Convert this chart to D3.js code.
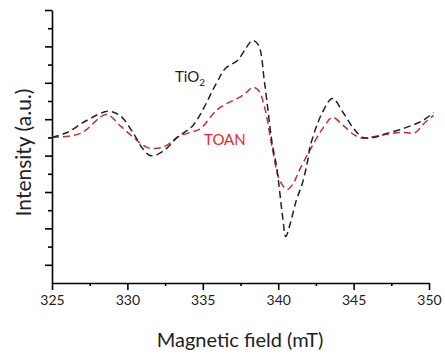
<!DOCTYPE html>
<html>
<head>
<meta charset="utf-8">
<script src="https://cdn.jsdelivr.net/npm/d3@7"></script>
<style>
  body { margin: 0; background: #fff; }
  text { font-family: Lato, "Open Sans", sans-serif; }
</style>
</head>
<body>
<div id="chart"></div>
<script>
// magnetic field (mT) and relative intensity
var tio2Field = [325.0, 326.0, 327.3, 328.7, 329.5, 330.4, 331.0, 331.5, 332.0, 332.6, 333.3, 334.35, 335.9, 336.5, 337.3, 337.9, 338.3, 338.7, 339.1, 339.6, 339.9, 340.3, 340.5, 340.8, 341.2, 341.6, 342.0, 342.1, 342.9, 343.6, 344.3, 345.0, 345.6, 346.3, 347.2, 348.5, 349.6, 350.3];
var tio2Value = [0, 0.27, 0.93, 1.43, 1.21, 0.22, -0.6, -0.99, -0.93, -0.6, 0, 0.66, 2.97, 3.79, 4.23, 4.95, 5.33, 5.05, 2.97, -0.33, -1.65, -4.40, -5.44, -4.73, -3.46, -2.53, -1.10, -0.55, 1.32, 2.14, 1.37, 0.49, 0, 0, 0.22, 0.55, 0.93, 1.37];

var toanField = [325.0, 326.9, 328.6, 329.5, 330.4, 331.3, 332.0, 332.6, 333.3, 334.15, 334.8, 335.9, 336.6, 337.3, 337.9, 338.3, 338.7, 339.1, 339.6, 340.1, 340.6, 341.0, 341.4, 342.1, 343.0, 343.6, 344.3, 345.1, 345.6, 346.75, 348.1, 349.1, 349.6, 350.3];
var toanValue = [0, 0.22, 1.26, 0.66, 0, -0.55, -0.6, -0.44, 0, 0.27, 0.45, 1.48, 1.87, 2.14, 2.47, 2.75, 2.58, 1.65, -0.55, -2.36, -2.86, -2.53, -1.81, -0.71, 0.55, 1.10, 0.66, 0.11, -0.05, 0.11, 0.27, 0.27, 0.71, 1.21];

var xTicks = [325, 330, 335, 340, 345, 350];

var margin = {top: 10, right: 16, bottom: 77, left: 52},
    width = 445 - margin.left - margin.right,
    height = 360 - margin.top - margin.bottom;

var svg = d3.select("#chart").append("svg")
    .attr("width", 445)
    .attr("height", 360)
  .append("g")
    .attr("transform", "translate(" + margin.left + "," + margin.top + ")");

var x = d3.scaleLinear().domain([325, 350]).range([0, width]);
var y = d3.scaleLinear().domain([-8, 7]).range([height, 0]);

// x axis: major ticks with labels, minor ticks between
var xAxis = svg.append("g")
    .attr("transform", "translate(0," + height + ")")
    .call(d3.axisBottom(x).tickValues(xTicks).tickSize(7).tickSizeOuter(0).tickFormat(d3.format("d")));
svg.append("g")
    .attr("transform", "translate(0," + height + ")")
    .call(d3.axisBottom(x).tickValues(d3.range(327.5, 350, 5)).tickSize(3).tickFormat(""))
    .select(".domain").remove();

// y axis: no labels, alternating long / short ticks
svg.append("g")
    .call(d3.axisLeft(y).tickValues(d3.range(-7, 8, 2)).tickSize(7).tickSizeOuter(0).tickFormat(""));
svg.append("g")
    .call(d3.axisLeft(y).tickValues(d3.range(-6, 7, 2)).tickSize(4).tickFormat(""))
    .select(".domain").remove();

svg.selectAll(".domain, .tick line")
    .attr("stroke", "#000")
    .attr("stroke-width", 1.6);

xAxis.selectAll(".tick text")
    .attr("y", 12)
    .style("font-size", "14px")
    .attr("fill", "#222");

// axis titles
svg.append("text")
    .attr("x", 188)
    .attr("y", height + 64)
    .attr("text-anchor", "middle")
    .style("font-size", "20px")
    .attr("fill", "#222")
    .text("Magnetic field (mT)");

svg.append("text")
    .attr("transform", "translate(-21," + (height / 2 + 6) + ") rotate(-90)")
    .attr("text-anchor", "middle")
    .style("font-size", "21px")
    .attr("fill", "#222")
    .text("Intensity (a.u.)");

var line = d3.line()
    .x(function(d) { return x(d[0]); })
    .y(function(d) { return y(d[1]); })
    .curve(d3.curveCatmullRom);

svg.append("path")
    .datum(d3.zip(toanField, toanValue))
    .attr("fill", "none")
    .attr("stroke", "#c0302e")
    .attr("stroke-width", 1.5)
    .attr("stroke-dasharray", "7,4")
    .attr("d", line);

svg.append("path")
    .datum(d3.zip(tio2Field, tio2Value))
    .attr("fill", "none")
    .attr("stroke", "#222")
    .attr("stroke-width", 1.5)
    .attr("stroke-dasharray", "7,4")
    .attr("d", line);

// series labels
var tLabel = svg.append("text")
    .attr("x", 123)
    .attr("y", 72)
    .style("font-size", "15px")
    .attr("fill", "#222");
tLabel.append("tspan").text("TiO");
tLabel.append("tspan").attr("dy", 4).style("font-size", "10px").text("2");

svg.append("text")
    .attr("x", 152)
    .attr("y", 135)
    .style("font-size", "15px")
    .attr("fill", "#e8262b")
    .text("TOAN");
</script>
</body>
</html>
